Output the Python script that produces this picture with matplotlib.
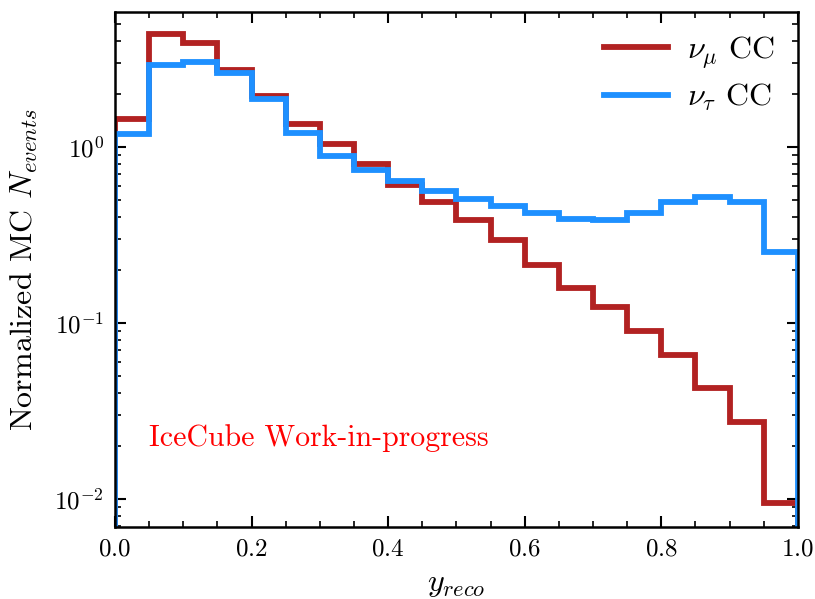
import numpy as np
import matplotlib
matplotlib.use("Agg")
import matplotlib.pyplot as plt
from matplotlib.lines import Line2D

plt.rcParams['font.family'] = 'serif'
plt.rcParams['font.serif'] = ['cmr10']
plt.rcParams['mathtext.fontset'] = 'cm'
plt.rcParams['axes.formatter.use_mathtext'] = True

edges = np.linspace(0, 1, 21)
numu_cc = [1.44, 4.39, 3.88, 2.75, 1.95, 1.35, 1.04, 0.80, 0.61, 0.485,
           0.385, 0.294, 0.214, 0.157, 0.123, 0.090, 0.066, 0.0426, 0.0273, 0.0094]
nutau_cc = [1.18, 2.93, 3.05, 2.62, 1.87, 1.20, 0.89, 0.74, 0.644, 0.562,
            0.505, 0.464, 0.42, 0.388, 0.385, 0.42, 0.487, 0.52, 0.489, 0.254]
labels = [r'$\nu_\mu$ CC', r'$\nu_\tau$ CC']
colors = ['#B22222', '#1E90FF']

centers = 0.5 * (edges[:-1] + edges[1:])

fig = plt.figure(figsize=(8.15, 5.99), dpi=100)
ax = fig.add_axes([0.141, 0.12, 0.838, 0.86])

for vals, c in zip([numu_cc, nutau_cc], colors):
    ax.hist(centers, bins=edges, weights=vals, histtype='step', color=c, lw=4.2)

ax.set_yscale('log')
ax.set_xlim(0, 1)
ax.set_ylim(0.0069, 5.85)
ax.set_xlabel(r'$y_{reco}$', fontsize=23, labelpad=8)
ax.set_ylabel(r'Normalized MC $N_{events}$', fontsize=23, labelpad=10)

ax.xaxis.set_major_locator(plt.MultipleLocator(0.2))
ax.xaxis.set_minor_locator(plt.MultipleLocator(0.05))
ax.tick_params(which='both', direction='in', top=True, right=True, labelsize=18)
ax.tick_params(which='major', length=8, width=1.5, pad=8)
ax.tick_params(which='minor', length=4, width=1.2)
for s in ax.spines.values():
    s.set_linewidth(1.8)

ax.text(0.05, 0.158, 'IceCube Work-in-progress', color='red', fontsize=21.5,
        transform=ax.transAxes)

handles = [Line2D([], [], color=c, lw=4.2) for c in colors]
ax.legend(handles, labels, loc='upper right', frameon=False, fontsize=23,
          handlelength=2.0, handletextpad=0.6, labelspacing=0.35,
          borderaxespad=0.3)

fig.savefig('out.png', dpi=100)
